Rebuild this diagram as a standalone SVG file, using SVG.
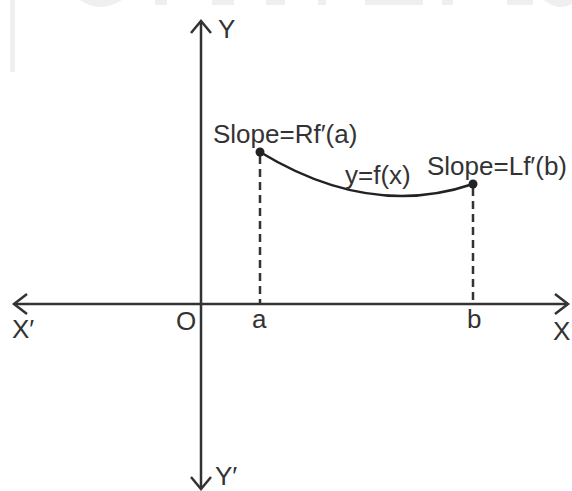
<svg xmlns="http://www.w3.org/2000/svg" width="572" height="491" viewBox="0 0 572 491">
  <style>
    .ax { stroke: #333333; stroke-width: 2.5; fill: none; }
    .dash { stroke: #333333; stroke-width: 2.5; fill: none; stroke-dasharray: 8 5; }
    .curve { stroke: #222222; stroke-width: 2.5; fill: none; }
    .dot { fill: #222222; }
    .lbl { font-family: "Liberation Sans", Arial, sans-serif; font-size: 26px; fill: #333333; }
    .wm { fill: #efefef; }
  </style>
  <rect width="572" height="491" fill="#ffffff"/>
  <g id="watermark">
    <rect x="10" y="0" width="5" height="72" class="wm"/>
    <path class="wm" d="M80,0 Q100,14 122,0 Z"/>
    <rect x="155" y="0" width="12" height="5" class="wm"/>
    <rect x="212" y="0" width="22" height="5" class="wm"/>
    <rect x="266" y="0" width="19" height="5" class="wm"/>
    <rect x="318" y="0" width="8" height="5" class="wm"/>
    <rect x="365" y="0" width="58" height="5" class="wm"/>
    <rect x="442" y="0" width="11" height="5" class="wm"/>
    <rect x="507" y="0" width="26" height="5" class="wm"/>
    <path class="wm" d="M544,0 Q558,12 572,4 L572,0 Z"/>
  </g>
  <g id="connectors">
    <line id="x-axis" class="ax" x1="14" y1="304" x2="568" y2="304"/>
    <polyline class="ax" points="27,294 14,304 27,314"/>
    <polyline class="ax" points="555,294 568,304 555,314"/>
    <line id="y-axis" class="ax" x1="201" y1="21" x2="201" y2="489"/>
    <polyline class="ax" points="191,33 201,21 211,33"/>
    <polyline class="ax" points="191,477 201,489 211,477"/>
    <line class="dash" x1="260" y1="156" x2="260" y2="304"/>
    <line class="dash" x1="473" y1="188" x2="473" y2="304"/>
    <path id="curve" class="curve" d="M260,152 Q370,219 473,184"/>
  </g>
  <g id="point-a">
    <circle class="dot" cx="260" cy="152" r="4.5"/>
    <text class="lbl" x="213" y="143">Slope=Rf′(a)</text>
  </g>
  <g id="point-b">
    <circle class="dot" cx="473" cy="184" r="4.5"/>
    <text class="lbl" x="427" y="175">Slope=Lf′(b)</text>
  </g>
  <g id="curve-label">
    <text class="lbl" x="345" y="184">y=f(x)</text>
  </g>
  <g id="axis-labels">
    <text class="lbl" x="218" y="38">Y</text>
    <text class="lbl" x="215" y="485">Y′</text>
    <text class="lbl" x="12" y="338">X′</text>
    <text class="lbl" x="553" y="340">X</text>
    <text class="lbl" x="176" y="330">O</text>
    <text class="lbl" x="252" y="328">a</text>
    <text class="lbl" x="467" y="328">b</text>
  </g>
</svg>
